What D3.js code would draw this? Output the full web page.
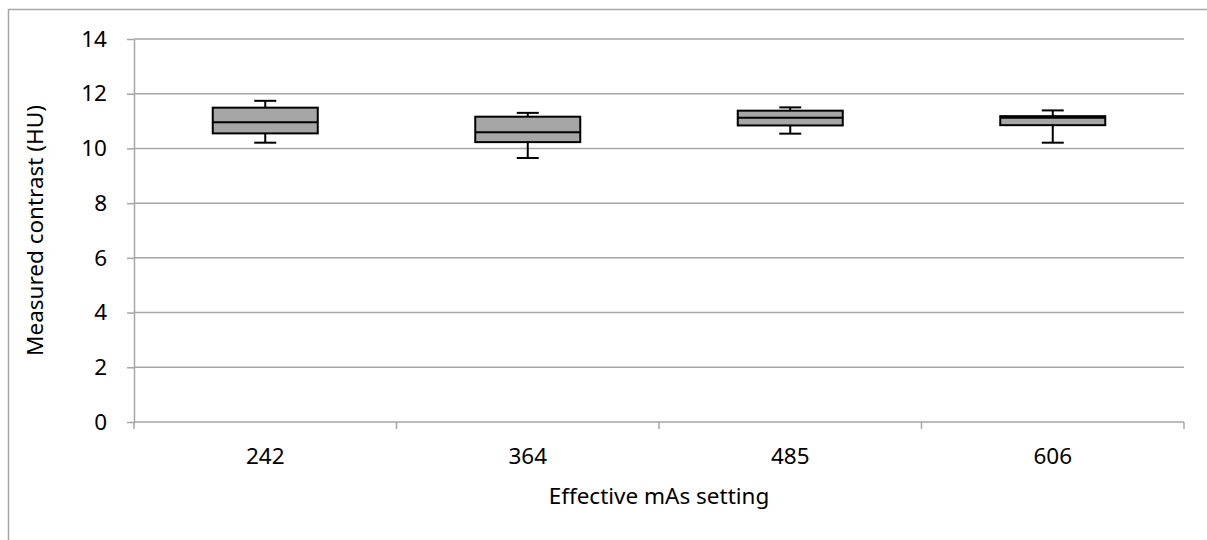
<!DOCTYPE html>
<html>
<head>
<meta charset="utf-8">
<script src="https://cdn.jsdelivr.net/npm/d3@7"></script>
<style>
  body { margin: 0; background: #fff; }
  text { font-family: "Noto Sans", sans-serif; fill: #000; }
</style>
</head>
<body>
<svg width="1207" height="540"></svg>
<script>
// values
var categories = ["242", "364", "485", "606"]
var whiskerLow = [10.21, 9.65, 10.54, 10.21]
var boxLow = [10.55, 10.23, 10.84, 10.85]
var medians = [10.96, 10.59, 11.12, 11.12]
var boxHigh = [11.49, 11.16, 11.38, 11.18]
var whiskerHigh = [11.74, 11.30, 11.50, 11.39]
var yTicks = [0, 2, 4, 6, 8, 10, 12, 14]

var data = categories.map((c, i) => ({
  cat: c, lo: whiskerLow[i], q1: boxLow[i], med: medians[i], q3: boxHigh[i], hi: whiskerHigh[i]
}))

var width = 1207
var height = 540
var margin = {top: 39, right: 23, bottom: 118, left: 134}
var gridColor = "#a6a6a6"
var fontSize = "22.5px"

var svg = d3.select("svg")

// outer chart frame (only left and top visible)
svg.append("rect")
  .attr("x", 8.5).attr("y", 9.5)
  .attr("width", width + 20).attr("height", height + 20)
  .attr("fill", "none")
  .attr("stroke", gridColor)
  .attr("stroke-width", 1.5)

var g = svg.append("g")
  .attr("transform", `translate(${margin.left},${margin.top})`)

var innerW = width - margin.left - margin.right
var innerH = height - margin.top - margin.bottom

var x = d3.scaleBand().domain(categories).range([0, innerW])
var y = d3.scaleLinear().domain([0, 14]).range([innerH, 0])

// gridlines
g.selectAll(".grid")
  .data(yTicks.slice(1))
  .enter().append("line")
  .attr("class", "grid")
  .attr("x1", 0).attr("x2", innerW)
  .attr("y1", d => y(d)).attr("y2", d => y(d))
  .attr("stroke", gridColor)
  .attr("stroke-width", 1.5)

// y axis
var yAxis = d3.axisLeft(y).tickValues(yTicks).tickSize(7).tickSizeOuter(0)
var ya = g.append("g").call(yAxis)
ya.select(".domain").attr("stroke", gridColor).attr("stroke-width", 1.5)
ya.selectAll(".tick line").attr("stroke", gridColor).attr("stroke-width", 1.5)
ya.selectAll(".tick text").attr("x", -27).style("font-size", fontSize)

// x axis with ticks on category boundaries
var xa = g.append("g").attr("transform", `translate(0,${innerH})`)
xa.append("line")
  .attr("x1", 0).attr("x2", innerW)
  .attr("stroke", gridColor).attr("stroke-width", 1.5)
var bounds = categories.map(c => x(c)).concat([innerW])
xa.selectAll(".xtick")
  .data(bounds)
  .enter().append("line")
  .attr("x1", d => d).attr("x2", d => d)
  .attr("y1", 0).attr("y2", 7)
  .attr("stroke", gridColor).attr("stroke-width", 1.5)
xa.selectAll(".xlabel")
  .data(categories)
  .enter().append("text")
  .attr("x", d => x(d) + x.bandwidth() / 2)
  .attr("y", 42)
  .attr("text-anchor", "middle")
  .style("font-size", fontSize)
  .text(d => d)

// boxes
var boxW = x.bandwidth() * 0.4
var capW = 11
var box = g.selectAll(".box")
  .data(data)
  .enter().append("g")
  .attr("class", "box")
  .attr("transform", d => `translate(${x(d.cat) + x.bandwidth() / 2},0)`)

box.append("line")
  .attr("y1", d => y(d.hi)).attr("y2", d => y(d.q3))
  .attr("stroke", "#000").attr("stroke-width", 2)
box.append("line")
  .attr("y1", d => y(d.q1)).attr("y2", d => y(d.lo))
  .attr("stroke", "#000").attr("stroke-width", 2)
box.append("line")
  .attr("x1", -capW).attr("x2", capW)
  .attr("y1", d => y(d.hi)).attr("y2", d => y(d.hi))
  .attr("stroke", "#000").attr("stroke-width", 2)
box.append("line")
  .attr("x1", -capW).attr("x2", capW)
  .attr("y1", d => y(d.lo)).attr("y2", d => y(d.lo))
  .attr("stroke", "#000").attr("stroke-width", 2)
box.append("rect")
  .attr("x", -boxW / 2).attr("width", boxW)
  .attr("y", d => y(d.q3)).attr("height", d => y(d.q1) - y(d.q3))
  .attr("fill", "#a6a6a6").attr("stroke", "#000").attr("stroke-width", 2)
box.append("line")
  .attr("x1", -boxW / 2).attr("x2", boxW / 2)
  .attr("y1", d => y(d.med)).attr("y2", d => y(d.med))
  .attr("stroke", "#000").attr("stroke-width", 2)

// axis titles
svg.append("text")
  .attr("x", margin.left + innerW / 2)
  .attr("y", 504)
  .attr("text-anchor", "middle")
  .style("font-size", fontSize)
  .text("Effective mAs setting")

svg.append("text")
  .attr("transform", `translate(43,${margin.top + innerH / 2}) rotate(-90)`)
  .attr("text-anchor", "middle")
  .style("font-size", fontSize)
  .text("Measured contrast (HU)")
</script>
</body>
</html>
